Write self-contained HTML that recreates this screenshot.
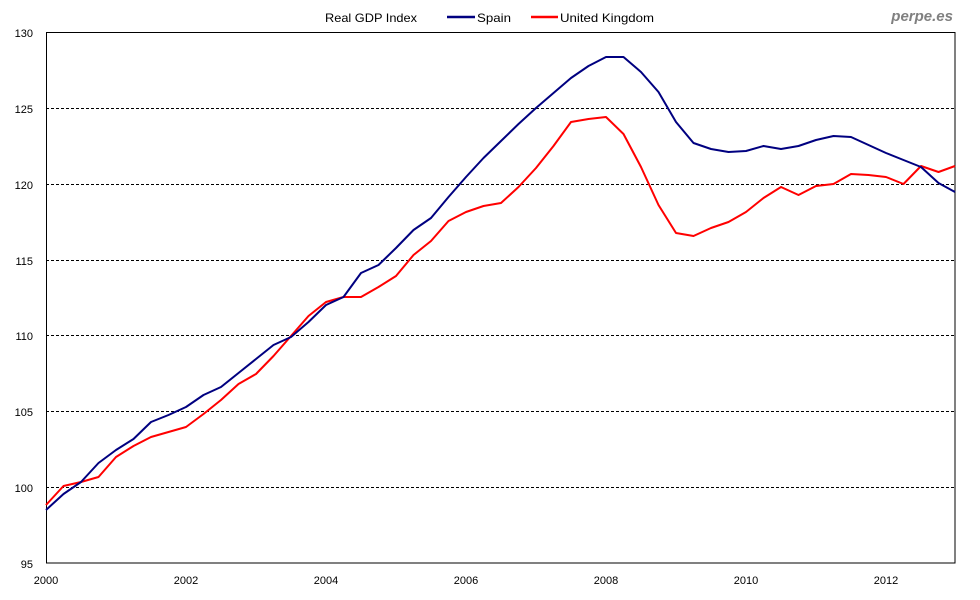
<!DOCTYPE html>
<html><head><meta charset="utf-8"><style>
body{margin:0;background:#fff}
svg{display:block;font-family:"Liberation Sans",Arial,sans-serif}
</style></head><body>
<svg width="980" height="600" viewBox="0 0 980 600">
<rect width="980" height="600" fill="#fff"/>
<g stroke="#000" stroke-width="1" stroke-dasharray="3,2">
<line x1="46" x2="955" y1="108.5" y2="108.5"/>
<line x1="46" x2="955" y1="184.5" y2="184.5"/>
<line x1="46" x2="955" y1="260.5" y2="260.5"/>
<line x1="46" x2="955" y1="335.5" y2="335.5"/>
<line x1="46" x2="955" y1="411.5" y2="411.5"/>
<line x1="46" x2="955" y1="487.5" y2="487.5"/>
</g>
<rect x="46.5" y="32.5" width="908.5" height="530.5" fill="none" stroke="#000" stroke-width="1"/>
<g font-size="11" fill="#000" text-anchor="end">
<text x="33" y="37">130</text>
<text x="33" y="113">125</text>
<text x="33" y="189">120</text>
<text x="33" y="265">115</text>
<text x="33" y="340">110</text>
<text x="33" y="416">105</text>
<text x="33" y="492">100</text>
<text x="33" y="568">95</text>
</g>
<g font-size="11" fill="#000" text-anchor="middle">
<text x="46" y="584">2000</text>
<text x="186" y="584">2002</text>
<text x="326" y="584">2004</text>
<text x="466" y="584">2006</text>
<text x="606" y="584">2008</text>
<text x="746" y="584">2010</text>
<text x="886" y="584">2012</text>
</g>
<text x="325" y="22" font-size="12" fill="#000" textLength="92" lengthAdjust="spacingAndGlyphs">Real GDP Index</text>
<line x1="447" x2="475" y1="17" y2="17" stroke="#000080" stroke-width="2.5"/>
<text x="477" y="22" font-size="12" fill="#000" textLength="34" lengthAdjust="spacingAndGlyphs">Spain</text>
<line x1="531" x2="558" y1="17" y2="17" stroke="#ff0000" stroke-width="2.5"/>
<text x="560" y="22" font-size="12" fill="#000" textLength="94" lengthAdjust="spacingAndGlyphs">United Kingdom</text>
<text x="953" y="21" font-size="15" font-weight="bold" font-style="italic" fill="#808080" text-anchor="end">perpe.es</text>
<polyline fill="none" stroke="#ff0000" stroke-width="2" stroke-linejoin="round" points="46,505 63.5,486 81,482 98.5,477 116,457 133.5,446 151,437 168.5,432 186,427 203.5,414 221,400 238.5,384 256,374 273.5,356 291,336 308.5,316 326,302 343.5,297 361,297 378.5,287 396,276 413.5,255 431,241 448.5,221 466,212 483.5,206 501,203 518.5,187 536,168 553.5,146 571,122 588.5,119 606,117 623.5,134 641,167 658.5,205 676,233 693.5,236 711,228 728.5,222 746,212 763.5,198 781,187 798.5,195 816,186 833.5,184 851,174 868.5,175 886,177 903.5,184 921,166 938.5,172 955,166"/>
<polyline fill="none" stroke="#000080" stroke-width="2" stroke-linejoin="round" points="46,510 63.5,494 81,482 98.5,463 116,450 133.5,439 151,422 168.5,415 186,407 203.5,395 221,387 238.5,373 256,359 273.5,345 291,337 308.5,322 326,305 343.5,297 361,273 378.5,265 396,248 413.5,230 431,218 448.5,197 466,177 483.5,158 501,141 518.5,124 536,108 553.5,93 571,78 588.5,66 606,57 623.5,57 641,72 658.5,92 676,122 693.5,143 711,149 728.5,152 746,151 763.5,146 781,149 798.5,146 816,140 833.5,136 851,137 868.5,145 886,153 903.5,160 921,167 938.5,183 955,192"/>
</svg>
</body></html>
